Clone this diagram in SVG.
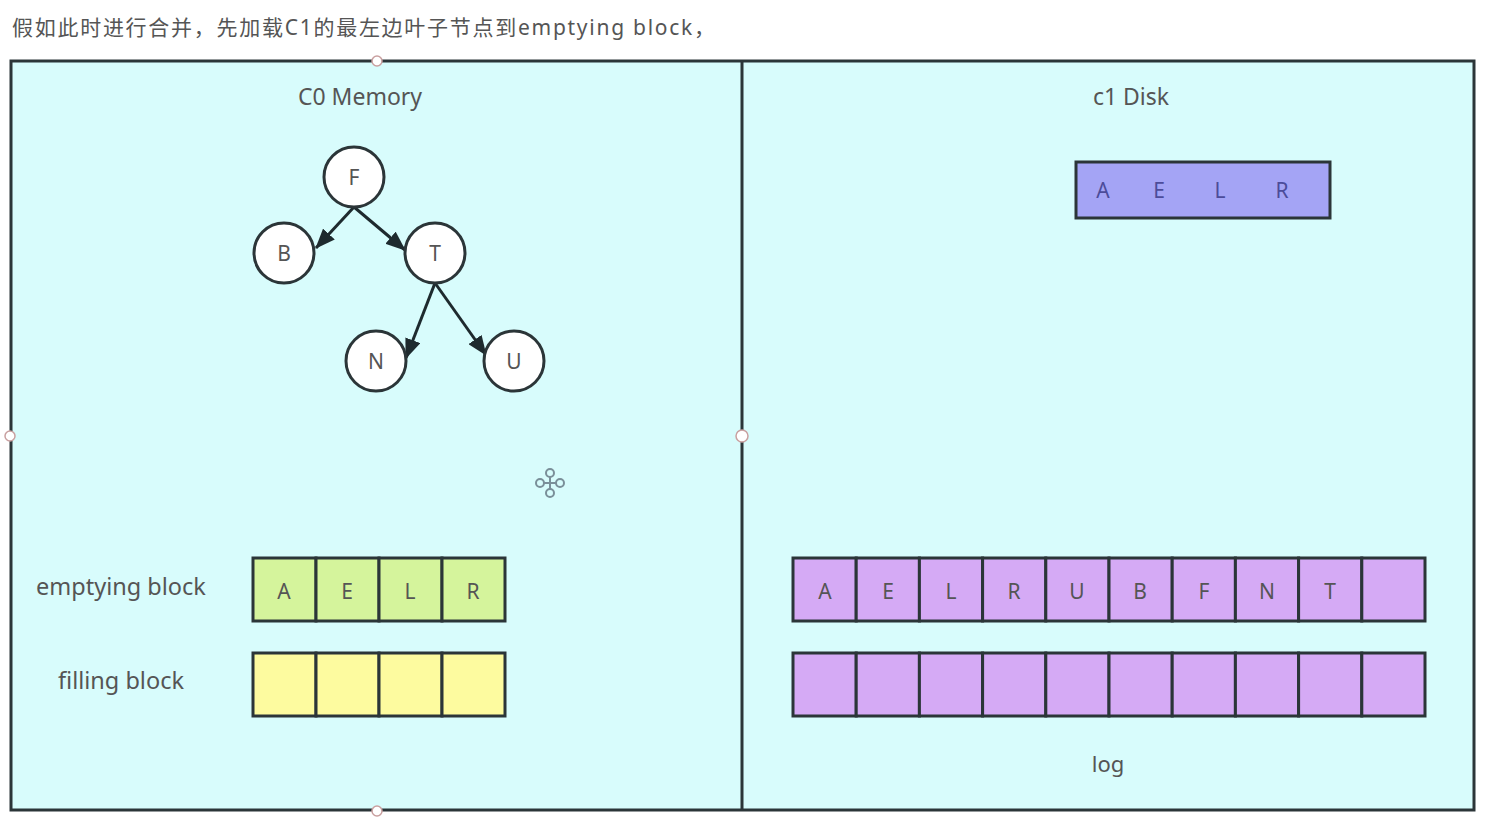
<svg xmlns="http://www.w3.org/2000/svg" width="1486" height="828" viewBox="0 0 1486 828">
<style>
.t{font-family:"Noto Sans","Liberation Sans","Noto Sans CJK SC",sans-serif;fill:#555;}
.cell{stroke:#2b3538;stroke-width:3;}
.g{fill:#d5f49c;}
.y{fill:#fdfb9f;}
.p{fill:#d5aaf5;}
.node{fill:#fff;stroke:#2b3538;stroke-width:3;}
.lt{font-size:21px;text-anchor:middle;dominant-baseline:central;}
.handle{fill:#fff;stroke:#c9a0a0;stroke-width:1.5;}
</style>
<defs>
<marker id="ah2" viewBox="0 0 20 16" refX="19" refY="8" markerWidth="20" markerHeight="16" orient="auto" markerUnits="userSpaceOnUse">
<path d="M0,0 L20,8 L0,16 z" fill="#1e2a2e"/>
</marker>
</defs>
<rect width="1486" height="828" fill="#fff"/>
<text class="t" x="12" y="35" font-size="21" textLength="703" lengthAdjust="spacing">假如此时进行合并，先加载C1的最左边叶子节点到emptying block，</text>
<g id="frame">
<rect x="11" y="61" width="1463" height="749" fill="#d8fcfc" stroke="#2b3538" stroke-width="3"/>
<line x1="742" y1="61" x2="742" y2="810" stroke="#2b3538" stroke-width="3"/>
<circle class="handle" cx="377" cy="61" r="5"/>
<circle class="handle" cx="10" cy="436" r="5"/>
<circle class="handle" cx="742" cy="436" r="6"/>
<circle class="handle" cx="377" cy="811" r="5"/>
</g>
<text class="t" x="360" y="105" font-size="23" text-anchor="middle">C0 Memory</text>
<text class="t" x="1131" y="105" font-size="23" text-anchor="middle">c1 Disk</text>
<g id="connectors" stroke="#1e2a2e" stroke-width="3" fill="none">
<line x1="354" y1="207" x2="316" y2="248" marker-end="url(#ah2)"/>
<line x1="354" y1="207" x2="405" y2="250" marker-end="url(#ah2)"/>
<line x1="435" y1="283" x2="406" y2="358" marker-end="url(#ah2)"/>
<line x1="435" y1="283" x2="486" y2="355" marker-end="url(#ah2)"/>
</g>
<g id="node-F"><circle class="node" cx="354" cy="177" r="30"/><text class="t lt" x="354" y="177" font-size="20">F</text></g>
<g id="node-B"><circle class="node" cx="284" cy="253" r="30"/><text class="t lt" x="284" y="253" font-size="20">B</text></g>
<g id="node-T"><circle class="node" cx="435" cy="253" r="30"/><text class="t lt" x="435" y="253" font-size="20">T</text></g>
<g id="node-N"><circle class="node" cx="376" cy="361" r="30"/><text class="t lt" x="376" y="361" font-size="20">N</text></g>
<g id="node-U"><circle class="node" cx="514" cy="361" r="30"/><text class="t lt" x="514" y="361" font-size="20">U</text></g>
<g id="cursor" fill="none" stroke="#7a8f99" stroke-width="2">
<circle cx="550" cy="473" r="4"/><circle cx="550" cy="493" r="4"/><circle cx="540" cy="483" r="4"/><circle cx="560" cy="483" r="4"/>
<line x1="544" y1="483" x2="556" y2="483"/><line x1="550" y1="477" x2="550" y2="489"/>
</g>
<g id="c1-block">
<rect x="1076" y="162" width="254" height="56" fill="#a4a4f5" stroke="#2b3538" stroke-width="3"/>
<text class="t lt" x="1103" y="190" style="fill:#4c4c9a">A</text><text class="t lt" x="1159" y="190" style="fill:#4c4c9a">E</text><text class="t lt" x="1220" y="190" style="fill:#4c4c9a">L</text><text class="t lt" x="1282" y="190" style="fill:#4c4c9a">R</text>
</g>
<g id="emptying-block">
<text class="t" x="121" y="595" font-size="23.5" text-anchor="middle">emptying block</text>
<rect class="cell g" x="253" y="558" width="63" height="63"/><rect class="cell g" x="316" y="558" width="63" height="63"/><rect class="cell g" x="379" y="558" width="63" height="63"/><rect class="cell g" x="442" y="558" width="63" height="63"/>
<text class="t lt" x="284" y="591">A</text><text class="t lt" x="347" y="591">E</text><text class="t lt" x="410" y="591">L</text><text class="t lt" x="473" y="591">R</text>
</g>
<g id="filling-block">
<text class="t" x="121" y="689" font-size="23.5" text-anchor="middle">filling block</text>
<rect class="cell y" x="253" y="653" width="63" height="63"/><rect class="cell y" x="316" y="653" width="63" height="63"/><rect class="cell y" x="379" y="653" width="63" height="63"/><rect class="cell y" x="442" y="653" width="63" height="63"/>
</g>
<g id="disk-row1">
<rect class="cell p" x="793" y="558" width="63.2" height="63"/><rect class="cell p" x="856.2" y="558" width="63.2" height="63"/><rect class="cell p" x="919.4" y="558" width="63.2" height="63"/><rect class="cell p" x="982.6" y="558" width="63.2" height="63"/><rect class="cell p" x="1045.8" y="558" width="63.2" height="63"/><rect class="cell p" x="1109" y="558" width="63.2" height="63"/><rect class="cell p" x="1172.2" y="558" width="63.2" height="63"/><rect class="cell p" x="1235.4" y="558" width="63.2" height="63"/><rect class="cell p" x="1298.6" y="558" width="63.2" height="63"/><rect class="cell p" x="1361.8" y="558" width="63.2" height="63"/>
<text class="t lt" x="825" y="591">A</text><text class="t lt" x="888" y="591">E</text><text class="t lt" x="951" y="591">L</text><text class="t lt" x="1014" y="591">R</text><text class="t lt" x="1077" y="591">U</text><text class="t lt" x="1140" y="591">B</text><text class="t lt" x="1204" y="591">F</text><text class="t lt" x="1267" y="591">N</text><text class="t lt" x="1330" y="591">T</text>
</g>
<g id="disk-row2">
<rect class="cell p" x="793" y="653" width="63.2" height="63"/><rect class="cell p" x="856.2" y="653" width="63.2" height="63"/><rect class="cell p" x="919.4" y="653" width="63.2" height="63"/><rect class="cell p" x="982.6" y="653" width="63.2" height="63"/><rect class="cell p" x="1045.8" y="653" width="63.2" height="63"/><rect class="cell p" x="1109" y="653" width="63.2" height="63"/><rect class="cell p" x="1172.2" y="653" width="63.2" height="63"/><rect class="cell p" x="1235.4" y="653" width="63.2" height="63"/><rect class="cell p" x="1298.6" y="653" width="63.2" height="63"/><rect class="cell p" x="1361.8" y="653" width="63.2" height="63"/>
</g>
<text class="t" x="1108" y="772" font-size="22" text-anchor="middle">log</text>
</svg>
